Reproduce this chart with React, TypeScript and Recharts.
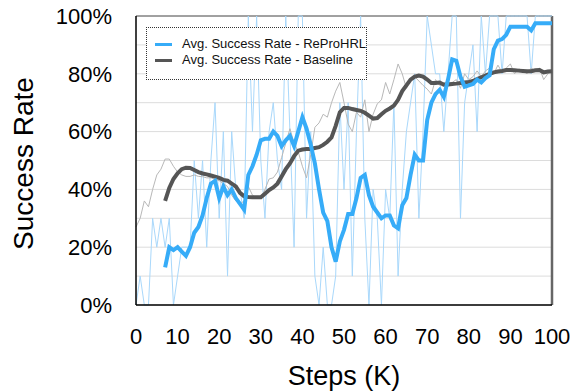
import { LineChart, Line, XAxis, YAxis, CartesianGrid, ReferenceLine, Label } from "recharts"

// raw evaluations, one per 1K steps (0..100), in %
const reproRaw = [
  0, 10, 0, 0, 30, 20, 30, 20, 30, 0,
  10, 20, 20, 20, 50, 30, 50, 20, 50, 70,
  30, 60, 10, 60, 40, 40, 30, 100, 60, 100,
  50, 30, 60, 70, 50, 40, 100, 60, 20, 100,
  100, 30, 60, 10, 0, 20, 0, 0, 10, 70,
  40, 70, 10, 60, 100, 30, 0, 40, 30, 0,
  40, 30, 70, 10, 40, 60, 70, 80, 30, 60,
  100, 90, 80, 80, 60, 80, 100, 100, 30, 70,
  80, 90, 60, 100, 80, 100, 100, 100, 80, 100,
  100, 100, 100, 100, 100, 80, 100, 100, 100, 100,
  100,
]

const baseRaw = [
  27, 30, 36, 34, 40, 45, 47, 50.5, 50.5, 48,
  46, 45, 44.5, 44.5, 45, 44.5, 44.4, 44, 44, 43.5,
  43, 42, 41, 38, 36, 35, 36, 41, 38, 37,
  37, 40, 43.6, 44, 46, 51, 56, 61, 56, 53,
  48, 44, 52, 61.5, 63, 66, 65, 70, 74, 77,
  70, 62.6, 60, 66.7, 65, 71, 60, 66, 69.6, 71,
  77, 73, 78, 83.4, 80, 75, 78, 79, 77.5, 76,
  74.7, 73, 78, 76, 77, 77, 77, 78, 75, 80,
  78, 79, 81, 79, 81, 82, 80, 83, 80.5, 82,
  83.4, 80, 81.7, 81, 80, 82, 81, 82, 78, 80,
  81,
]

// smoothed curves start at step 7
const avgStart = 7

const reproAvg = [
  13, 20, 19, 20, 18.5, 17, 20, 25, 27, 31,
  37, 42, 43, 37, 41, 38, 40, 37, 35, 33,
  45, 48, 52, 57, 57.5, 57.5, 60, 58.5, 55, 57,
  58.5, 55, 60, 65, 61, 55.5, 49, 40, 32, 29,
  20, 15, 22, 26, 31.5, 31.5, 37, 44, 45, 38,
  34, 32, 30, 31, 31, 27.5, 26.5, 34.5, 37, 45,
  52, 50, 50, 64, 70, 73, 74.5, 72, 78, 85,
  84.5, 79, 75.5, 76, 76.5, 78, 77, 78.5, 79.5, 88.5,
  91.5, 92, 93.5, 96.3, 96.3, 96.3, 96.3, 96.3, 95, 97.5,
  97.5, 97.5, 97.5, 97.5,
]

const baseAvg = [
  36, 40.5, 43.6, 45.6, 47, 47.5, 47.4, 46.7, 46, 45.5,
  45.2, 44.8, 44.4, 44, 43.3, 43, 42, 41, 38.8, 37.6,
  37.4, 37.3, 37.3, 37.3, 38.5, 39.8, 40.7, 42, 44.5, 47,
  49, 51.5, 53.4, 53.8, 54, 54, 54.3, 54.6, 55.4, 56.5,
  58, 62, 66.7, 68.2, 68.2, 67.8, 67.5, 67.2, 66.5, 65.5,
  64.5, 64.7, 66, 67.2, 68, 69, 71, 74, 76, 78,
  79, 79.4, 79, 78, 76.8, 76.8, 77, 76.2, 76.3, 76.5,
  76.6, 76.8, 77, 77.2, 77.5, 78.2, 78.8, 79.4, 80, 80.5,
  80.8, 81, 81.3, 81.3, 81.2, 81.1, 81, 80.9, 80.9, 81.2,
  81.3, 80.5, 80.8, 80.9,
]

const xTicks = [0, 10, 20, 30, 40, 50, 60, 70, 80, 90, 100]
const yTicks = [0, 10, 20, 30, 40, 50, 60, 70, 80, 90, 100]

const seriesNames = ["Avg. Success Rate - ReProHRL", "Avg. Success Rate - Baseline"]

const data = reproRaw.map((v, i) => ({
  step: i,
  reproRaw: v,
  baseRaw: baseRaw[i],
  reproAvg: i >= avgStart ? reproAvg[i - avgStart] : null,
  baseAvg: i >= avgStart ? baseAvg[i - avgStart] : null,
}))

const FONT = "'Liberation Sans', Arial, Helvetica, sans-serif"
const BLUE = "#36acf8"
const GRAY = "#555555"

// legend drawn as a plain box over the plot so it doesn't eat chart space
function LegendBox() {
  const items = [
    { name: seriesNames[0], color: BLUE },
    { name: seriesNames[1], color: GRAY },
  ]
  return (
    <div
      style={{
        position: "absolute",
        left: 146,
        top: 27,
        width: 219,
        height: 43,
        paddingTop: 8,
        border: "1px dotted #333",
        background: "#fff",
        fontFamily: FONT,
        fontSize: 13,
        color: "#111",
        whiteSpace: "nowrap",
      }}
    >
      {items.map((it) => (
        <div key={it.name} style={{ display: "flex", alignItems: "center", height: 16, lineHeight: "16px" }}>
          <span style={{ display: "inline-block", width: 17, height: 3, background: it.color, marginLeft: 8, marginRight: 10 }} />
          <span>{it.name}</span>
        </div>
      ))}
    </div>
  )
}

export default function App() {
  return (
    <div style={{ position: "absolute", left: 0, top: 0, width: 574, height: 391, background: "#fff" }}>
      <LineChart width={574} height={391} data={data} margin={{ top: 16, right: 22, bottom: 0, left: 0 }}>
        <CartesianGrid vertical={false} stroke="#dcdcdc" strokeWidth={1} />
        <XAxis
          dataKey="step"
          type="number"
          domain={[0, 100]}
          ticks={xTicks}
          interval={0}
          height={86}
          tickLine={false}
          tickMargin={17}
          axisLine={{ stroke: "#000", strokeWidth: 1.5 }}
          tick={{ fontSize: 22, fill: "#000", fontFamily: FONT }}
        >
          <Label
            content={({ viewBox }: any) => (
              <text
                x={viewBox.x + viewBox.width / 2}
                y={viewBox.y + 80}
                textAnchor="middle"
                fontSize={27}
                fontFamily={FONT}
                fill="#000"
              >
                Steps (K)
              </text>
            )}
          />
        </XAxis>
        <YAxis
          type="number"
          domain={[0, 100]}
          ticks={yTicks}
          interval={0}
          width={136}
          tickLine={false}
          tickMargin={18}
          axisLine={{ stroke: "#000", strokeWidth: 1.5 }}
          tick={{ fontSize: 22, fill: "#000", fontFamily: FONT }}
          tickFormatter={(v: number) => (v % 20 === 0 ? `${v}%` : "")}
        >
          <Label
            content={({ viewBox }: any) => {
              const cx = 33
              const cy = viewBox.y + viewBox.height / 2 + 3
              return (
                <text
                  x={cx}
                  y={cy}
                  transform={`rotate(-90, ${cx}, ${cy})`}
                  textAnchor="middle"
                  fontSize={28}
                  fontFamily={FONT}
                  fill="#000"
                >
                  Success Rate
                </text>
              )
            }}
          />
        </YAxis>
        <ReferenceLine y={100} stroke="#555" strokeWidth={1.2} />
        <ReferenceLine x={100} stroke="#666" strokeWidth={2.5} />
        <Line dataKey="reproRaw" stroke="#a9d8fb" strokeWidth={1} dot={false} isAnimationActive={false} />
        <Line dataKey="baseRaw" stroke="#b8b8b8" strokeWidth={1} dot={false} isAnimationActive={false} />
        <Line
          dataKey="baseAvg"
          name={seriesNames[1]}
          stroke={GRAY}
          strokeWidth={4}
          dot={false}
          isAnimationActive={false}
        />
        <Line
          dataKey="reproAvg"
          name={seriesNames[0]}
          stroke={BLUE}
          strokeWidth={4}
          dot={false}
          isAnimationActive={false}
        />
      </LineChart>
      <LegendBox />
    </div>
  )
}
